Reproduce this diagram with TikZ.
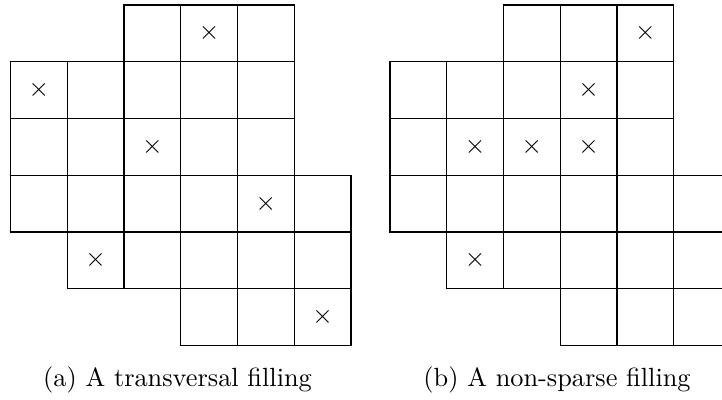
\documentclass[tikz,border=0pt]{standalone}
\begin{document}
\begin{tikzpicture}[x=0.38pt,y=-0.38pt,
  cell/.style={draw=black,line width=0.45pt,minimum size=21.565pt,inner sep=0pt,outer sep=0pt}]
\useasboundingbox (0,0) rectangle (722,400);
\def\cs{56.75}
% rows: row/first col/last col
\foreach \pre/\xo in {L/10.5,R/390}{
  \foreach \r/\a/\b in {1/3/5,2/1/5,3/1/5,4/1/6,5/2/6,6/4/6}{
    \foreach \c in {\a,...,\b}{
      \node[cell] (\pre-\r-\c) at ({\xo+(\c-0.5)*\cs},{5+(\r-0.5)*\cs}) {};
    }
  }
}
\foreach \r/\c in {1/4,2/1,3/3,4/5,5/2,6/6}{
  \node at (L-\r-\c) {$\times$};
}
\foreach \r/\c in {1/5,2/4,3/2,3/3,3/4,5/2}{
  \node at (R-\r-\c) {$\times$};
}
\node[anchor=base] (capa) at (177.5,387) {(a) A transversal filling};
\node[anchor=base] (capb) at (557,387) {(b) A non-sparse filling};
\end{tikzpicture}
\end{document}
